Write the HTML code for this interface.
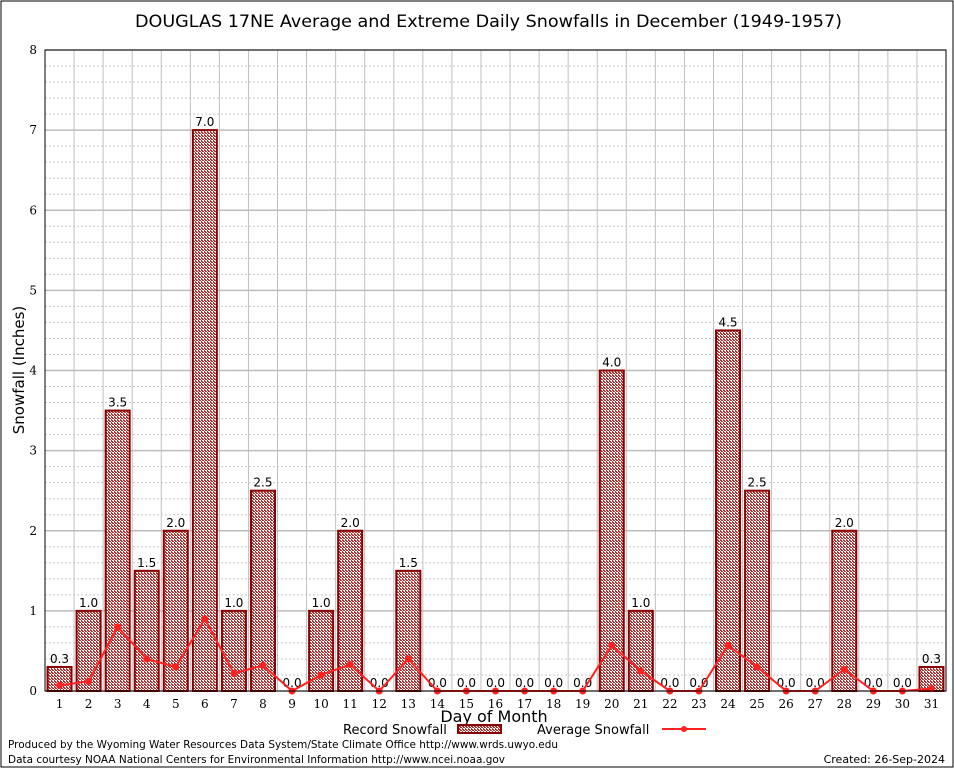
<!DOCTYPE html>
<html><head><meta charset="utf-8"><style>
html,body{margin:0;padding:0;background:#fff}
svg{display:block;font-family:"DejaVu Sans","Liberation Sans",sans-serif}
</style></head><body>
<svg id="chart" width="954" height="768" viewBox="0 0 954 768">
<defs>
<pattern id="hatch" width="3" height="3" patternUnits="userSpaceOnUse">
<rect width="3" height="3" fill="#fff"/>
<rect width="2" height="1" fill="#b03030"/>
<rect x="1" y="1" width="2" height="1" fill="#b03030"/>
<rect x="0" y="2" width="1" height="1" fill="#b03030"/>
</pattern>
</defs>
<rect x="1" y="1" width="952" height="766" fill="#fff" stroke="#000" stroke-width="1"/>
<text x="135" y="27" font-size="17" textLength="707" lengthAdjust="spacingAndGlyphs">DOUGLAS 17NE Average and Extreme Daily Snowfalls in December (1949-1957)</text>
<g id="grid"></g>
<g id="bars"></g>
<g id="avg"></g>
<g id="axes"></g>
<text transform="translate(24,370) rotate(-90)" font-size="15" text-anchor="middle">Snowfall (Inches)</text>
<text x="494" y="722" font-size="16" text-anchor="middle">Day of Month</text>
<g>
<text x="343" y="734" font-size="13">Record Snowfall</text>
<rect x="458" y="725" width="43" height="8" fill="url(#hatch)" stroke="#8b0000" stroke-width="2"/>
</g>
<g>
<text x="537" y="734" font-size="13">Average Snowfall</text>
<line x1="662" y1="729" x2="706" y2="729" stroke="#ff2020" stroke-width="2"/>
<circle cx="684" cy="729" r="3" fill="#ff2020"/>
</g>
<text x="8" y="748" font-size="11" textLength="550" lengthAdjust="spacingAndGlyphs">Produced by the Wyoming Water Resources Data System/State Climate Office http://www.wrds.uwyo.edu</text>
<text x="8" y="763" font-size="11" textLength="497" lengthAdjust="spacingAndGlyphs">Data courtesy NOAA National Centers for Environmental Information http://www.ncei.noaa.gov</text>
<text x="945" y="763" font-size="11" text-anchor="end">Created: 26-Sep-2024</text>
</svg>
<script>
const days = [1,2,3,4,5,6,7,8,9,10,11,12,13,14,15,16,17,18,19,20,21,22,23,24,25,26,27,28,29,30,31];
const records = [0.3,1.0,3.5,1.5,2.0,7.0,1.0,2.5,0,1.0,2.0,0,1.5,0,0,0,0,0,0,4.0,1.0,0,0,4.5,2.5,0,0,2.0,0,0,0.3];
const averages = [0.07,0.12,0.8,0.4,0.3,0.9,0.22,0.32,0,0.2,0.33,0,0.4,0,0,0,0,0,0,0.57,0.25,0,0,0.57,0.3,0,0,0.27,0,0,0.03];
const yTicks = [0,1,2,3,4,5,6,7,8];
const NS="http://www.w3.org/2000/svg";
const L=45,R=946,T=50,B=691,yMax=8;
const step=(R-L)/days.length;
const x=d=>L+(d-0.5)*step;
const y=v=>B-v/yMax*(B-T);
function mk(tag,attrs,parent,text){const e=document.createElementNS(NS,tag);for(const k in attrs)e.setAttribute(k,attrs[k]);if(text!==undefined)e.textContent=text;parent.appendChild(e);return e;}
const grid=document.getElementById('grid'),bars=document.getElementById('bars'),avg=document.getElementById('avg'),axes=document.getElementById('axes');
for(let v=0;v<=yMax;v+=0.2){const vv=Math.round(v*10)/10;if(Math.abs(vv-Math.round(vv))<1e-6)continue;
const g=mk('line',{x1:L,x2:R,y1:y(vv),y2:y(vv),stroke:'#c8c8c8','stroke-dasharray':'2,2','stroke-width':1},grid);

}
for(let i=1;i<days.length;i++){const gx=L+i*step;
const g=mk('line',{x1:gx,x2:gx,y1:T,y2:B,stroke:'#c0c0c0','stroke-width':1},grid);

}
yTicks.forEach(t=>{
const g=mk('line',{x1:L,x2:R,y1:y(t),y2:y(t),stroke:'#bdbdbd','stroke-width':1.5},grid);


const tl=mk('text',{x:L-8,y:y(t)+4,'font-size':12,'text-anchor':'end','font-family':'"DejaVu Serif","Liberation Serif",serif'},axes,String(t));

});
days.forEach((d,i)=>{
const v=records[i];
if(v>0){const b=mk('rect',{x:x(d)-12,y:y(v),width:24,height:B-y(v),fill:'url(#hatch)',stroke:'#8b0000','stroke-width':2},bars);

}
const lb=mk('text',{x:x(d),y:y(v)-4,'font-size':12,'text-anchor':'middle'},bars,v.toFixed(1));


const xl=mk('text',{x:x(d),y:B+17,'font-size':12,'text-anchor':'middle','font-family':'"DejaVu Serif","Liberation Serif",serif'},axes,String(d));

});
const pl=mk('polyline',{points:days.map((d,i)=>x(d)+','+y(averages[i])).join(' '),fill:'none',stroke:'#ff2020','stroke-width':2},avg);


days.forEach((d,i)=>{const c=mk('circle',{cx:x(d),cy:y(averages[i]),r:3.5,fill:'#ff2020'},avg);

});
const ax=mk('rect',{x:L,y:T,width:R-L,height:B-T,fill:'none',stroke:'#000','stroke-width':1},axes);


</script>
</body></html>
